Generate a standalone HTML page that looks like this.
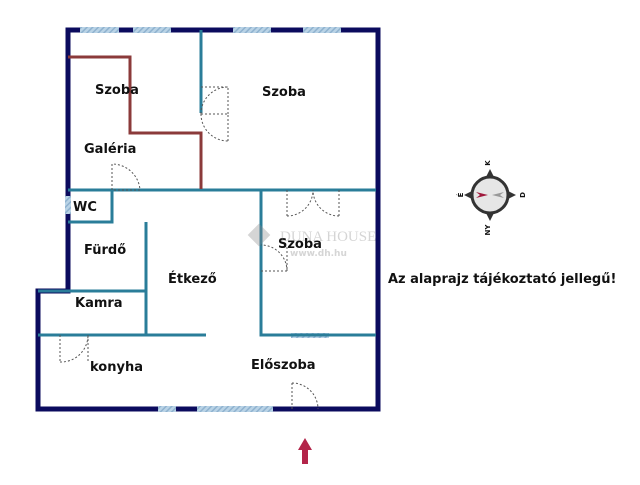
<!DOCTYPE html>
<html><head><meta charset="utf-8"><style>
body{margin:0;background:#fff;width:640px;height:480px;overflow:hidden}
text{font-family:"DejaVu Sans","Liberation Sans",sans-serif;font-weight:bold;font-size:13px;fill:#111}
</style></head><body>
<svg width="640" height="480" viewBox="0 0 640 480">
<defs><pattern id="h" width="4" height="4" patternUnits="userSpaceOnUse" patternTransform="rotate(45)"><rect width="4" height="4" fill="#b9d3e6"/><rect width="1.5" height="4" fill="#8fb2cf"/></pattern></defs>
<path d="M68 30 H378 V409 H38 V291 H68 Z" fill="none" stroke="#0b0b5e" stroke-width="5"/>
<g fill="url(#h)">
<rect x="80" y="27" width="39" height="6"/><rect x="133" y="27" width="38" height="6"/>
<rect x="233" y="27" width="38" height="6"/><rect x="303" y="27" width="38" height="6"/>
<rect x="158" y="406" width="18" height="6"/><rect x="197" y="406" width="76" height="6"/>
<rect x="65" y="196" width="6" height="18"/>
<rect x="291" y="333" width="38" height="5"/>
</g>
<g stroke="#2a7d99" stroke-width="3" fill="none">
<path d="M201 30 V113"/>
<path d="M68 190 H376"/>
<path d="M261 190 V335 H376"/>
<path d="M112 190 V222 H68"/>
<path d="M146 222 V335"/>
<path d="M38 291 H146"/>
<path d="M38 335 H206"/>
</g>
<path d="M68 57 H130 V133 H201 V189" fill="none" stroke="#8b3a3a" stroke-width="3"/>
<g fill="none" stroke="#555" stroke-width="1" stroke-dasharray="2,2">
<path d="M112 164 V190 H140 A28 28 0 0 0 112 164"/>
<path d="M201 87 H228 V114 M201 114 A27 27 0 0 1 228 87 M201 114 H228 V141 M201 114 A27 27 0 0 0 228 141"/>
<path d="M287 190 V216 M287 216 A26 26 0 0 0 313 190 M339 190 V216 M339 216 A26 26 0 0 1 313 190"/>
<path d="M261 271 H287 V245 M287 271 A26 26 0 0 0 261 245"/>
<path d="M60 335 V362 M60 362 A27 27 0 0 0 88 335 M88 335 V362"/>
<path d="M292 383 V409 M292 383 A26 26 0 0 1 318 409"/>
</g>
<text x="95" y="94">Szoba</text>
<text x="262" y="96">Szoba</text>
<text x="84" y="153">Galéria</text>
<text x="73" y="211">WC</text>
<text x="84" y="254">Fürdő</text>
<text x="168" y="283">Étkező</text>
<text x="278" y="248">Szoba</text>
<text x="75" y="307">Kamra</text>
<text x="90" y="371">konyha</text>
<text x="251" y="369">Előszoba</text>
<text x="388" y="283">Az alaprajz tájékoztató jellegű!</text>
<g opacity="0.35"><rect x="251" y="227" width="16" height="16" fill="#888" transform="rotate(45 259 235)"/>
<text x="280" y="241" style="font-family:'Liberation Serif',serif;font-weight:normal;font-size:15px;fill:#888">DUNA HOUSE</text>
<text x="290" y="256" style="font-size:9px;fill:#888">www.dh.hu</text></g>
<g transform="translate(490,195)">
<circle r="18" fill="#e6e6e6" stroke="#333" stroke-width="3"/>
<path d="M0 -26 L4 -18 H-4 Z M0 26 L4 18 H-4 Z M26 0 L18 4 V-4 Z M-26 0 L-18 4 V-4 Z" fill="#333"/>
<path d="M-2 0 L-14 -3 L-10 0 L-14 3 Z" fill="#a0193c"/>
<path d="M2 0 L14 -3 L10 0 L14 3 Z" fill="#999"/>
<text x="0" y="-32" transform="rotate(-90 0 -32)" style="font-size:7px" text-anchor="middle">K</text>
<text x="-30" y="3" transform="rotate(-90 -30 0)" style="font-size:7px" text-anchor="middle">É</text>
<text x="32" y="3" transform="rotate(-90 32 0)" style="font-size:7px" text-anchor="middle">D</text>
<text x="0" y="35" transform="rotate(-90 0 35)" style="font-size:7px" text-anchor="middle">NY</text>
</g>
<path d="M305 438 L298 450 H302 V464 H308 V450 H312 Z" fill="#b3254a"/>
</svg>
</body></html>
